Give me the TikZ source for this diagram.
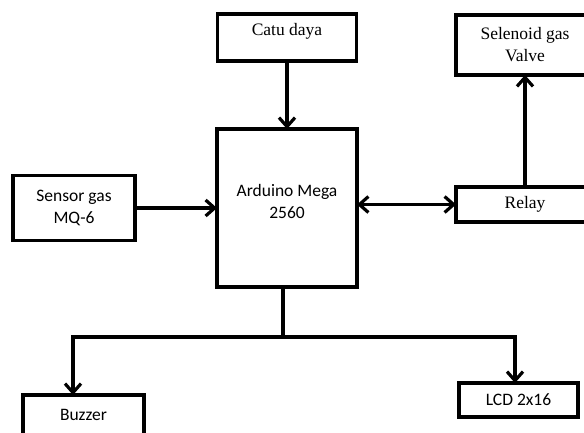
\documentclass[tikz,border=0pt]{standalone}
\usepackage{fontspec}
\setmainfont{Liberation Serif}
\newfontfamily\calibri{Carlito}
\usetikzlibrary{positioning,arrows.meta}

\begin{document}
\begin{tikzpicture}[
  x=1bp, y=-1bp,
  font=\fontsize{17.5bp}{22bp}\selectfont,
  blok/.style={draw, line width=3.2bp, outer sep=0pt, inner sep=2bp, align=center},
  sans/.style={font=\fontsize{17.5bp}{22bp}\selectfont\calibri},
  arr/.style={-{Straight Barb[length=9bp,width=16bp]}, line width=3.2bp},
  dua/.style={{Straight Barb[length=9bp,width=16bp]}-{Straight Barb[length=9bp,width=16bp]}, line width=3.2bp}
]
\useasboundingbox (0,0) rectangle (584,432);
\clip (0,0) rectangle (584,432);

\node[blok, minimum width=140bp, minimum height=158bp,
  label={[sans, align=center, yshift=7bp]center:Arduino Mega\\2560}] (arduino) at (287,208) {};

\node[blok, minimum width=139bp, minimum height=47bp, above=68bp of arduino,
  label={[yshift=6.5bp]center:Catu daya}] (catu) {};
\node[blok, sans, minimum width=122bp, minimum height=65bp, left=82bp of arduino] (sensor) {Sensor gas\\MQ-6};
\node[blok, minimum width=138bp, minimum height=35bp, right=99bp of arduino, yshift=3.5bp] (relay) {Relay};
\node[blok, minimum width=138bp, minimum height=60bp, above=112bp of relay] (valve) {Selenoid gas\\Valve};

\node[blok, sans, minimum width=121bp, minimum height=40bp] (buzzer) at (83.5,415) {Buzzer};
\node[blok, sans, minimum width=119bp, minimum height=34bp] (lcd) at (518.5,400) {LCD 2x16};

\draw[arr] (catu.south) -- (catu.south |- arduino.north);
\draw[arr] (sensor.east) -- (sensor.east -| arduino.west);
\draw[dua] (arduino.east |- relay.west) -- (relay.west);
\draw[arr] (relay.north) -- (valve.south);

\coordinate (bus) at (283,337);
\coordinate (busL) at (73,337);
\coordinate (busR) at (515,337);
\draw[line width=3.2bp] (bus |- arduino.south) -- (bus);
\draw[arr] (bus) -- (busL) -- (busL |- buzzer.north);
\draw[arr] (bus) -- (busR) -- (busR |- lcd.north);
\end{tikzpicture}
\end{document}
